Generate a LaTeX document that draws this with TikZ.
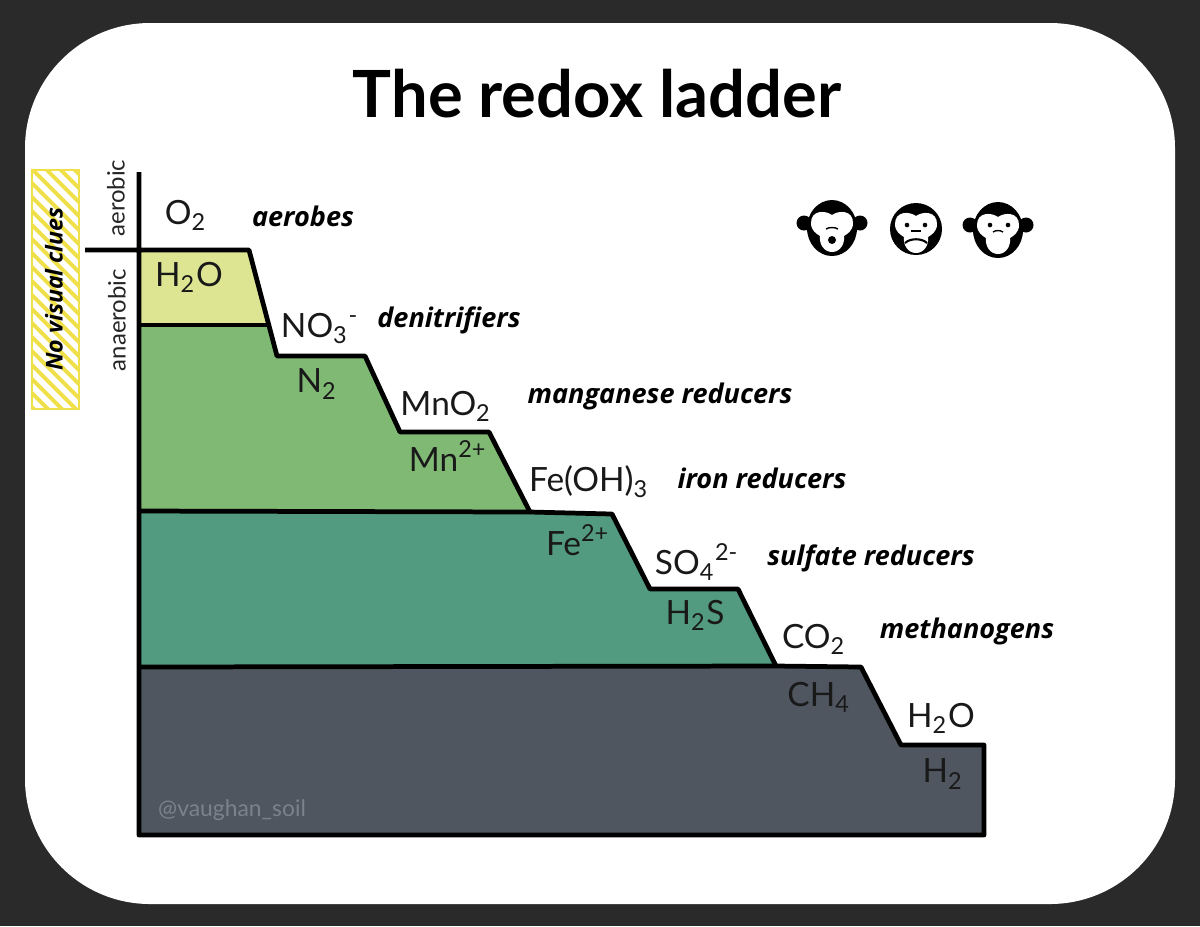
\documentclass[tikz,border=0pt]{standalone}
\usepackage{fontspec}
\setmainfont{Lato}
\newfontfamily\labelfont{Open Sans}
\definecolor{frame}{HTML}{2A2A2A}
\definecolor{oxic}{HTML}{DDE592}
\definecolor{leafgreen}{HTML}{80B974}
\definecolor{teal}{HTML}{529A80}
\definecolor{slate}{HTML}{4F5660}
\definecolor{hazard}{HTML}{EFE04A}
\definecolor{tag}{HTML}{7C828B}
\newcommand{\subs}[1]{\textsubscript{#1}}
\newcommand{\sups}[1]{\textsuperscript{#1}}
\tikzset{
  step line/.style={line width=1.35pt,line join=round},
  species/.style={font=\fontsize{9.5}{12}\selectfont,text=black!90},
  microbe/.style={font=\labelfont\fontsize{7.7}{9}\selectfont\bfseries\itshape},
  zone/.style={font=\fontsize{6.8}{8}\selectfont,rotate=90,text=black!85},
  monkeyhead/.pic={
    \fill (-28,-5) circle (7.5) (28,-5) circle (7.5);
    \fill (0,0) ellipse (25 and 28);
  },
  monkeyface/.pic={
    \fill[white] (0,-13) .. controls (-7,-18) and (-21,-18) .. (-21,-5)
      .. controls (-21,3) and (-15,6) .. (-12,8) .. controls (-13,16) and (-8,24) .. (0,24)
      .. controls (8,24) and (13,16) .. (12,8) .. controls (15,6) and (21,3) .. (21,-5)
      .. controls (21,-18) and (7,-18) .. (0,-13) -- cycle;
  }
}
\begin{document}
\begin{tikzpicture}[x=0.01cm,y=-0.01cm]
\useasboundingbox (0,0) rectangle (1200,926);
\fill[frame] (0,0) rectangle (1200,926);
\fill[white,rounded corners=1.25cm] (25,23) rectangle (1175,904);
\node[font=\fontsize{18.5}{22}\selectfont\bfseries] (title) at (597,94) {The redox ladder};
% hatched tag on the far left
\begin{scope}
  \clip (32,170) rectangle (79,409);
  \foreach \y in {120,134,...,420}
    \draw[hazard,line width=1.1pt] (25,\y) -- (85,\y+60);
\end{scope}
\draw[hazard,line width=0.8pt] (32,170) rectangle (79,409);
\node[microbe,font=\labelfont\fontsize{6.6}{8}\selectfont\bfseries\itshape] (clues) [rotate=90] at (54,289) {No visual clues};
\node[zone] (aerobic) at (116,198) {aerobic};
\node[zone] (anaerobic) at (117,320) {anaerobic};
% the four layers
\fill[oxic] (139,250) -- (249,250) -- (270,325) -- (139,325) -- cycle;
\fill[leafgreen] (139,325) -- (270,325) -- (277,356) -- (365,356) -- (400,432) -- (489,432) -- (530,512) -- (139,511) -- cycle;
\fill[teal] (139,511) -- (530,512) -- (612,514) -- (650,589) -- (738,589) -- (776,666) -- (139,667) -- cycle;
\fill[slate] (139,667) -- (776,666) -- (861,667) -- (901,745) -- (984,745) -- (984,835) -- (139,835) -- cycle;
% ladder outline
\draw[step line] (139,172) -- (139,835) -- (984,835) -- (984,745) -- (901,745) -- (861,667) -- (776,666)
   -- (738,589) -- (650,589) -- (612,514) -- (530,512) -- (489,432) -- (400,432) -- (365,356) -- (277,356) -- (249,250) -- (85,250);
\draw[step line] (139,325) -- (270,325);
\draw[step line] (139,511) -- (530,512);
\draw[step line] (139,667) -- (776,666);
% oxidants and reduced forms
\node[species] (otwo) at (186,215) {O\subs{2}};
\node[species] (water) at (189,277) {H\subs{2}O};
\node[species] (nitrate) at (320,328) {NO\subs{3}\sups{-}};
\node[species] (ntwo) at (317,384) {N\subs{2}};
\node[species] (mno) at (446,406) {MnO\subs{2}};
\node[species] (mn) at (448,456) {Mn\sups{2+}};
\node[species] (feoh) at (589,482) {Fe(OH)\subs{3}};
\node[species] (fe) at (578,540) {Fe\sups{2+}};
\node[species] (sulfate) at (697,562) {SO\subs{4}\sups{2-}};
\node[species] (hts) at (695,615) {H\subs{2}S};
\node[species] (cotwo) at (814,639) {CO\subs{2}};
\node[species] (methane) at (819,697) {CH\subs{4}};
\node[species] (lastwater) at (941,718) {H\subs{2}O};
\node[species] (htwo) at (943,774) {H\subs{2}};
% who does what
\node[microbe] (aerobes) at (303,216) {aerobes};
\node[microbe] (denit) at (449,320) {denitrifiers};
\node[microbe] (mangan) at (660,396) {manganese reducers};
\node[microbe] (iron) at (762,478) {iron reducers};
\node[microbe] (sulf) at (871,558) {sulfate reducers};
\node[microbe] (methano) at (967,631) {methanogens};
\node[font=\fontsize{6.5}{7}\selectfont,text=tag] (handle) at (232,810) {@vaughan\_soil};
% three monkeys
\pic at (832,228) {monkeyhead};
\pic at (832,228) {monkeyface};
\draw[line width=0.4pt] (826,229) .. controls (829,227) and (835,227) .. (838,229);
\fill (832,240) circle (4);
\fill (916,229) circle (26);
\pic at (916,229) {monkeyface};
\fill (907,225) circle (2.3) (925,225) circle (2.3);
\draw[line width=0.4pt] (911,231) -- (921,231);
\draw[line width=0.6pt] (905,243) .. controls (910,238) and (922,238) .. (927,243);
\pic at (998,230) {monkeyhead};
\pic at (998,230) {monkeyface};
\fill (990,225) circle (2.3) (1008,225) circle (2.3);
\draw[line width=0.4pt] (993,232) .. controls (996,230) and (1000,230) .. (1003,232);
\end{tikzpicture}
\end{document}
